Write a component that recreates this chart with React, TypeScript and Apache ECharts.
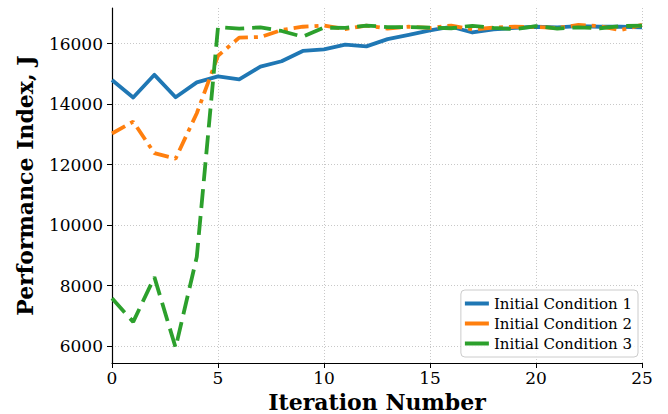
import React, { useEffect, useRef } from "react";
import * as echarts from "echarts";

const iterations = Array.from({ length: 26 }, (_, i) => i);
const ic1 = [14800, 14220, 14970, 14230, 14720, 14920, 14820, 15240, 15420, 15760, 15810, 15970, 15910, 16150, 16290, 16440, 16560, 16370, 16470, 16520, 16560, 16540, 16580, 16560, 16560, 16540];
const ic2 = [13030, 13420, 12380, 12200, 13700, 15600, 16200, 16220, 16450, 16560, 16600, 16480, 16600, 16500, 16560, 16520, 16600, 16470, 16530, 16560, 16550, 16520, 16620, 16580, 16450, 16620];
const ic3 = [7580, 6800, 8280, 5950, 8950, 16550, 16500, 16540, 16420, 16230, 16530, 16520, 16600, 16550, 16550, 16530, 16510, 16590, 16520, 16480, 16580, 16500, 16540, 16510, 16580, 16600];
const yTicks = [6000, 8000, 10000, 12000, 14000, 16000];
const seriesNames = ["Initial Condition 1", "Initial Condition 2", "Initial Condition 3"];

const FONT = "'DejaVu Serif', serif";

export default function App() {
  const ref = useRef<HTMLDivElement>(null);
  useEffect(() => {
    if (!ref.current) return;
    const chart = echarts.init(ref.current, null, { renderer: "svg" });
    const pairs = (arr: number[]) => arr.map((v, i) => [iterations[i], v]);
    chart.setOption({
      animation: false,
      backgroundColor: "#ffffff",
      textStyle: { fontFamily: FONT },
      grid: { left: 112, right: 26, top: 8, bottom: 51, outerBoundsMode: "none", containLabel: false },
      legend: {
        data: seriesNames,
        orient: "vertical",
        right: 30,
        bottom: 57,
        icon: "rect",
        itemWidth: 24,
        itemHeight: 4,
        itemGap: 5,
        padding: [6, 6, 6, 4],
        backgroundColor: "rgba(255,255,255,0.85)",
        borderColor: "#cccccc",
        borderWidth: 1,
        borderRadius: 4,
        itemStyle: { borderWidth: 0 },
        lineStyle: { type: "solid" },
        textStyle: { fontFamily: FONT, fontSize: 15, color: "#000" },
      },
      xAxis: {
        type: "value",
        min: 0,
        max: 25,
        interval: 5,
        name: "Iteration Number",
        nameLocation: "middle",
        nameGap: 27,
        nameTextStyle: { fontFamily: FONT, fontSize: 22, fontWeight: "bold", color: "#000" },
        axisLine: { lineStyle: { color: "#000", width: 1.2 } },
        axisTick: { show: true, length: 5, lineStyle: { color: "#000", width: 1 } },
        axisLabel: { fontFamily: FONT, fontSize: 17, color: "#000", margin: 6, formatter: (v: number) => String(v) },
        splitLine: { show: true, lineStyle: { color: "#c8c8c8", type: [1, 2], width: 1 } },
      },
      yAxis: {
        type: "value",
        min: 5440,
        max: 17180,
        name: "Performance Index, J",
        nameLocation: "middle",
        nameGap: 76,
        nameRotate: 90,
        nameTextStyle: { fontFamily: FONT, fontSize: 22, fontWeight: "bold", color: "#000" },
        axisLine: { show: true, lineStyle: { color: "#000", width: 1.2 } },
        axisTick: { show: true, length: 5, customValues: yTicks, lineStyle: { color: "#000", width: 1 } },
        axisLabel: {
          fontFamily: FONT,
          fontSize: 17,
          color: "#000",
          margin: 9,
          customValues: yTicks,
          formatter: (v: number) => String(v),
        },
        splitLine: { show: false },
      },
      series: [
        {
          type: "line",
          name: "grid",
          data: [],
          silent: true,
          z: 0,
          markLine: {
            silent: true,
            z: 0,
            symbol: "none",
            label: { show: false },
            lineStyle: { color: "#c8c8c8", type: [1, 2], width: 1 },
            data: yTicks.map((v) => ({ yAxis: v })),
          },
        },
        {
          type: "line",
          name: seriesNames[0],
          data: pairs(ic1),
          showSymbol: false,
          symbol: "none",
          color: "#1f77b4",
          lineStyle: { width: 3.8, color: "#1f77b4", cap: "butt", join: "round" },
          z: 3,
        },
        {
          type: "line",
          name: seriesNames[1],
          data: pairs(ic2),
          showSymbol: false,
          symbol: "none",
          color: "#ff7f0e",
          lineStyle: { width: 3.8, color: "#ff7f0e", type: [15, 6, 4, 6], cap: "butt" },
          z: 4,
        },
        {
          type: "line",
          name: seriesNames[2],
          data: pairs(ic3),
          showSymbol: false,
          symbol: "none",
          color: "#2ca02c",
          lineStyle: { width: 3.8, color: "#2ca02c", type: [19, 8], cap: "butt" },
          z: 5,
        },
      ],
    });
    return () => chart.dispose();
  }, []);
  return <div ref={ref} style={{ width: 668, height: 414, position: "absolute", left: 0, top: 0 }} />;
}
